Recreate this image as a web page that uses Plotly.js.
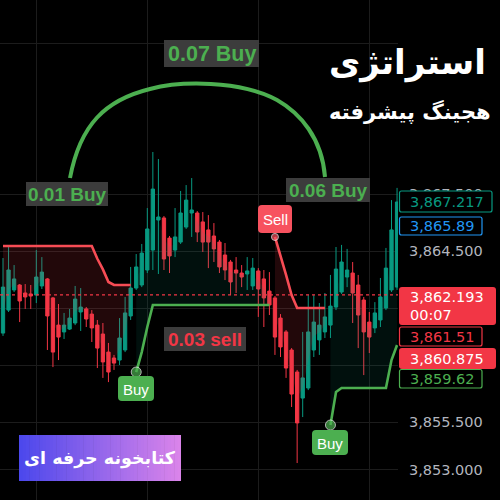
<!DOCTYPE html>
<html><head><meta charset="utf-8">
<script src="https://cdn.plot.ly/plotly-3.0.1.min.js"></script>
<style>html,body{margin:0;padding:0;background:#000;}#chart{width:500px;height:500px;}</style>
</head><body><div id="chart"></div>
<script>
// ---- candle data (one bar per entry) ----
const openP = [3860.18,3861.39,3862.45,3862.71,3862.29,3862.24,3862.18,3862.66,3863.03,3862.03,
3860.60,3860.24,3860.39,3860.71,3861.29,3861.45,3861.18,3860.60,3860.13,3859.18,
3858.87,3858.76,3859.29,3861.08,3862.55,3862.71,3863.50,3864.55,3866.13,3866.24,
3865.18,3864.55,3864.97,3865.76,3866.50,3866.50,3866.03,3865.61,3865.29,3864.97,
3864.29,3863.92,3863.50,3863.34,3863.29,3862.66,3863.45,3863.03,3862.39,3862.03,
3860.97,3860.24,3859.29,3858.13,3856.76,3857.29,3859.29,3859.82,3860.24,3860.60,
3861.55,3862.34,3863.13,3863.34,3862.71,3861.92,3860.76,3860.45,3860.87,3861.50,
3862.45,3862.60];
const highP = [3864.13,3864.71,3863.76,3862.76,3862.76,3862.71,3864.55,3864.18,3863.08,3862.08,
3861.71,3861.24,3861.45,3862.66,3862.55,3861.55,3861.39,3860.87,3860.71,3859.66,
3859.03,3860.97,3862.08,3863.66,3864.34,3864.87,3866.76,3869.71,3869.34,3866.34,
3865.29,3866.76,3867.66,3867.97,3868.34,3866.60,3866.55,3866.39,3865.97,3865.08,
3864.92,3864.03,3864.18,3863.76,3864.18,3864.13,3863.60,3863.50,3863.39,3862.13,
3861.18,3860.34,3859.39,3858.24,3860.24,3862.18,3862.18,3861.76,3862.29,3863.24,
3864.71,3864.82,3864.61,3863.92,3863.24,3862.08,3861.29,3861.81,3863.08,3864.66,
3867.18,3867.82];
const lowP = [3860.03,3861.29,3862.34,3860.76,3861.45,3861.45,3861.76,3862.50,3859.29,3858.39,
3858.76,3859.87,3860.34,3860.60,3860.29,3860.50,3859.71,3858.34,3857.82,3857.60,
3858.24,3858.50,3859.18,3860.87,3862.45,3862.60,3863.34,3863.50,3863.29,3863.50,
3863.34,3864.18,3864.87,3865.66,3865.24,3864.97,3864.45,3863.60,3863.92,3863.34,
3862.97,3862.18,3862.29,3862.60,3862.45,3862.45,3861.03,3860.50,3861.13,3859.03,
3858.92,3857.82,3856.29,3853.34,3855.76,3857.18,3858.92,3859.03,3859.92,3859.92,
3861.39,3862.24,3862.60,3860.71,3859.39,3857.97,3859.13,3860.18,3860.50,3861.39,
3862.34,3862.45];
const closeP = [3862.60,3863.50,3863.03,3861.87,3862.08,3862.13,3863.13,3863.39,3861.08,3859.18,
3859.97,3860.60,3860.97,3861.97,3861.55,3860.92,3860.45,3859.39,3858.66,3858.13,
3858.60,3859.92,3861.24,3862.55,3863.66,3864.39,3865.66,3867.76,3866.29,3864.08,
3864.24,3865.24,3866.50,3867.18,3866.66,3865.50,3864.97,3864.97,3864.61,3863.66,
3863.50,3862.87,3863.34,3863.13,3863.45,3863.60,3862.50,3862.03,3861.66,3859.97,
3859.45,3858.34,3856.97,3855.45,3857.82,3860.24,3860.76,3860.60,3861.03,3861.60,
3863.55,3863.92,3863.50,3862.29,3861.13,3860.24,3859.97,3861.24,3862.08,3863.60,
3865.61,3867.08];

// ---- trailing stop segments (start bar index + values) ----
const redStart1 = 0;
const redStop1 = [3864.76,3864.76,3864.76,3864.76,3864.76,3864.76,3864.76,3864.76,3864.76,3864.76,
3864.76,3864.76,3864.76,3864.76,3864.76,3864.76,3864.76,3864.09,3863.53,3862.87,3862.71,3862.71,3862.71,3862.71];
const greenStart1 = 24;
const greenStop1 = [3858.13,3859.18,3860.50,3861.66,3861.66,3861.66,3861.66,3861.66,3861.66,3861.66,
3861.66,3861.66,3861.66,3861.66,3861.66,3861.66,3861.66,3861.66,3861.66,3861.66,3861.66,3861.66,3861.66,3861.66,3861.66];
const redStart2 = 49;
const redStop2 = [3865.24,3864.29,3863.24,3862.18,3861.50,3861.50,3861.50,3861.50,3861.50,3861.50];
const greenStart2 = 59;
const greenStop2 = [3855.34,3857.08,3857.29,3857.29,3857.29,3857.29,3857.29,3857.29,3857.29,3857.29,3857.29,3858.76,3859.55];

// ---- axis ticks and labels ----
const yTickVals = [3853, 3855.5, 3858.5, 3861.5, 3864.5, 3867.5, 3875.4];
const yTickText = ["3,853.000","3,855.500","","","3,864.500","3,867.500",""];
const lastPrice = 3862.193;
const priceTags = ["3,867.217","3,865.89","3,862.193","3,861.51","3,860.875","3,859.62"];
const countdown = "00:07";
const tradeLabels = ["0.07 Buy","0.01 Buy","0.06 Buy","0.03 sell"];
const titleLine1 = "استراتژی";
const titleLine2 = "هجینگ پیشرفته";
const brandText = "کتابخونه حرفه ای";

// ---- styling / geometry ----
const UP = '#089981', DN = '#f23645', GRN = '#4caf50', RED = '#f74c55';
const PW = 398, PH = 500;
const xp = px => px / PW;
const yp = py => 1 - py / PH;
const P = (x, y) => xp(x) + ',' + yp(y);

const bars = openP.map((_, i) => i);
const mid = openP.map((o, i) => (o + closeP[i]) / 2);
const idx = (start, arr) => arr.map((_, i) => start + i);
const sl = (start, arr, src) => src.slice(start, start + arr.length);

const traces = [];
traces.push({type: 'candlestick', x: bars, open: openP, high: highP, low: lowP, close: closeP,
  increasing: {line: {color: UP, width: 1}, fillcolor: UP},
  decreasing: {line: {color: DN, width: 1}, fillcolor: DN},
  whiskerwidth: 0, hoverinfo: 'skip', showlegend: false});

function seg(start, arr, color, fillc) {
  traces.push({type: 'scatter', mode: 'lines', x: idx(start, arr), y: sl(start, arr, mid),
    line: {width: 0, color: 'rgba(0,0,0,0)'}, hoverinfo: 'skip', showlegend: false});
  traces.push({type: 'scatter', mode: 'lines', x: idx(start, arr), y: arr, fill: 'tonexty',
    fillcolor: fillc, line: {color: color, width: 2.6}, hoverinfo: 'skip', showlegend: false});
}
seg(redStart1, redStop1, RED, 'rgba(242,54,69,0.14)');
seg(greenStart1, greenStop1, GRN, 'rgba(8,153,129,0.10)');
seg(redStart2, redStop2, RED, 'rgba(242,54,69,0.14)');
seg(greenStart2, greenStop2, GRN, 'rgba(8,153,129,0.10)');

// signal pins at the start of each new stop segment
traces.push({type: 'scatter', mode: 'markers',
  x: [greenStart1, redStart2, greenStart2],
  y: [greenStop1[0], redStop2[0], greenStop2[0]],
  marker: {size: [10, 7, 10], color: [GRN, '#f7525f', GRN]}, hoverinfo: 'skip', showlegend: false});

// ---- shapes ----
const shapes = [];
function rr(x0, y0, x1, y1, r) {
  return `M${P(x0 + r, y0)} L${P(x1 - r, y0)} Q${P(x1, y0)} ${P(x1, y0 + r)} L${P(x1, y1 - r)} Q${P(x1, y1)} ${P(x1 - r, y1)} L${P(x0 + r, y1)} Q${P(x0, y1)} ${P(x0, y1 - r)} L${P(x0, y0 + r)} Q${P(x0, y0)} ${P(x0 + r, y0)} Z`;
}
function box(x0, y0, x1, y1, fill, border, r, layer) {
  shapes.push({type: 'path', xref: 'paper', yref: 'paper', path: rr(x0, y0, x1, y1, r || 0.01),
    fillcolor: fill, line: {color: border || fill, width: border ? 1.2 : 0}, layer: layer || 'above'});
}
// black patch behind title
shapes.push({type: 'rect', xref: 'paper', yref: 'paper', x0: xp(322), x1: xp(500), y0: yp(140), y1: yp(20),
  fillcolor: '#000', line: {width: 0}, layer: 'between'});
// last price dotted line
shapes.push({type: 'line', xref: 'paper', yref: 'y', x0: 0, x1: 1, y0: lastPrice, y1: lastPrice,
  line: {color: DN, width: 1.3, dash: 'dot'}, layer: 'above'});
// arc
shapes.push({type: 'path', xref: 'paper', yref: 'paper', layer: 'above',
  path: `M${P(70,178)} C${P(80,125)} ${P(105,100)} ${P(150,89)} C${P(180,81)} ${P(240,80)} ${P(277,100)} C${P(300,113)} ${P(322,138)} ${P(325,177)}`,
  line: {color: GRN, width: 4}});
// trade size boxes
box(164, 40, 259, 67, '#3c3c3c');
box(26, 182, 108, 206, '#3c3c3c');
box(286, 178, 370, 202, '#3c3c3c');
box(164, 327, 246, 351, '#3c3c3c');
// signal boxes
box(258, 205, 292, 233, '#f7525f', null, 4);
box(118, 376, 154, 401, GRN, null, 4);
box(312, 430, 348, 455, GRN, null, 4);
// price tags
box(399.5, 191, 492, 212, '#000', UP, 2);
box(399.5, 217, 482, 235, '#000', '#2196f3', 2);
box(399, 287, 496, 325, DN, null, 3);
box(399.5, 327, 482, 346, '#000', DN, 2);
box(399, 348, 496, 369, DN, null, 3);
box(399.5, 369.5, 482, 388, '#000', GRN, 2);
// gradient brand box
const N = 48, c0 = [76, 72, 236], c1 = [218, 132, 234];
for (let i = 0; i < N; i++) {
  const t = i / (N - 1);
  const c = c0.map((v, k) => Math.round(v + (c1[k] - v) * t));
  const xa = 19 + (162 / N) * i, xb = xa + 162 / N + 0.6;
  shapes.push({type: 'rect', xref: 'paper', yref: 'paper', x0: xp(xa), x1: xp(Math.min(xb, 181)),
    y0: yp(481), y1: yp(435), fillcolor: `rgb(${c.join(',')})`, line: {width: 0}, layer: 'above'});
}

// ---- annotations ----
const ann = [];
function txt(text, x, y, size, color, family, anchor) {
  ann.push({xref: 'paper', yref: 'paper', x: xp(x), y: yp(y), text: text, showarrow: false,
    xanchor: anchor || 'center', yanchor: 'middle', font: {size: size, color: color, family: family}, borderpad: 0});
}
const LIB = 'Liberation Sans, Arial, sans-serif';
const DJV = 'DejaVu Sans, sans-serif';
txt('<b>' + tradeLabels[0] + '</b>', 211.5, 54, 21.5, GRN, LIB);
txt('<b>' + tradeLabels[1] + '</b>', 67, 194.5, 19, GRN, LIB);
txt('<b>' + tradeLabels[2] + '</b>', 328, 190.5, 19, GRN, LIB);
txt('<b>' + tradeLabels[3] + '</b>', 205, 339.5, 19, DN, LIB);
txt('Sell', 275, 219.5, 15, '#fff', LIB);
txt('Buy', 136, 389, 15, '#fff', LIB);
txt('Buy', 330, 443, 15, '#fff', LIB);
txt(priceTags[0], 409, 201.5, 14.5, UP, DJV, 'left');
txt(priceTags[1], 409, 226, 14.5, '#2196f3', DJV, 'left');
txt(priceTags[2], 409, 297, 14.5, '#fff', DJV, 'left');
txt(countdown, 409, 315, 14.5, '#fff', DJV, 'left');
txt(priceTags[3], 409, 336.5, 14.5, DN, DJV, 'left');
txt(priceTags[4], 409, 358.5, 14.5, '#fff', DJV, 'left');
txt(priceTags[5], 409, 379, 14.5, GRN, DJV, 'left');
txt('<b>' + titleLine1 + '</b>', 407, 62, 34, '#fff', DJV);
txt('<b>' + titleLine2 + '</b>', 410, 112, 21, '#fff', DJV);
txt('<b>' + brandText + '</b>', 100, 458, 17.5, '#fff', DJV);

const layout = {
  width: 500, height: 500, margin: {l: 0, r: 102, t: 0, b: 0},
  paper_bgcolor: '#000', plot_bgcolor: '#000', showlegend: false, boxgap: 0.15,
  xaxis: {range: [-0.54, 71.17], rangeslider: {visible: false}, showticklabels: false,
    tickvals: [6.1, 26.1, 46.1, 66.1], showgrid: true, gridcolor: '#1c1c1c', zeroline: false, fixedrange: true},
  yaxis: {side: 'right', range: [3851.395, 3877.71], tickvals: yTickVals, ticktext: yTickText,
    tickfont: {family: DJV, size: 14.5, color: '#b2b5be'}, ticklabelstandoff: 10,
    showgrid: true, gridcolor: '#1c1c1c', zeroline: false, fixedrange: true},
  shapes: shapes, annotations: ann
};
Plotly.newPlot('chart', traces, layout, {staticPlot: true, displayModeBar: false});
</script></body></html>
